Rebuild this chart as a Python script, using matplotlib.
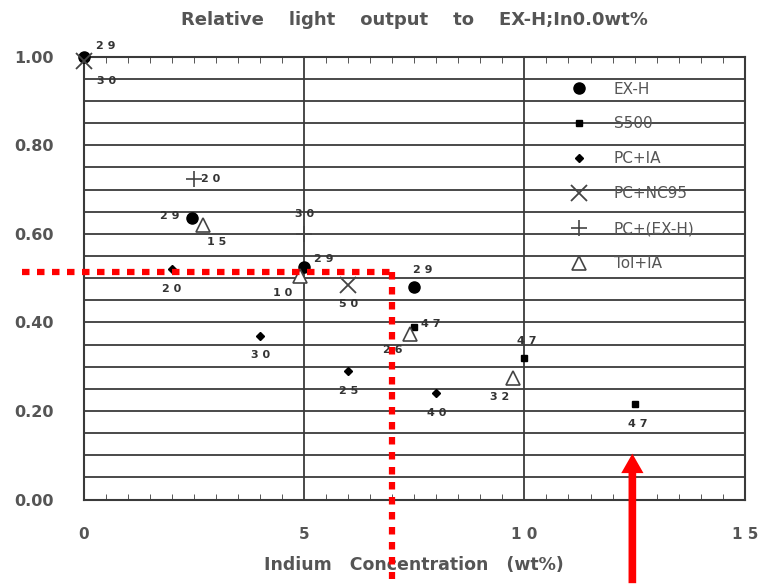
import matplotlib.pyplot as plt
import numpy as np

# data
exh_x = [0.0, 2.45, 5.0, 7.5]
exh_y = [1.00, 0.635, 0.525, 0.48]
exh_lab = ['29', '29', '29', '29']

s500_x = [7.5, 10.0, 12.5]
s500_y = [0.39, 0.32, 0.215]
s500_lab = ['47', '47', '47']

pcia_x = [2.0, 4.0, 6.0, 8.0]
pcia_y = [0.52, 0.37, 0.29, 0.24]
pcia_lab = ['20', '30', '25', '40']

nc95_x = [0.0, 6.0]
nc95_y = [0.99, 0.485]
nc95_lab = ['30', '50']

pcexh_x = [2.5, 5.0]
pcexh_y = [0.725, 0.60]
pcexh_lab = ['20', '30']

tolia_x = [2.7, 4.9, 7.4, 9.75]
tolia_y = [0.62, 0.505, 0.375, 0.275]
tolia_lab = ['15', '10', '26', '32']

# label offsets in points (x, y)
exh_off = [(16, 8), (-16, 2), (14, 6), (6, 12)]
s500_off = [(12, 2), (2, 12), (2, -14)]
pcia_off = [(0, -14), (0, -14), (0, -14), (0, -14)]
nc95_off = [(16, -14), (0, -14)]
pcexh_off = [(12, 0), (0, 14)]
tolia_off = [(10, -12), (-12, -12), (-12, -12), (-10, -14)]

grey = '#3a3a3a'
txt = '#555555'
fam = ['DejaVu Sans']

plt.switch_backend('Agg')
fig = plt.figure(figsize=(7.63, 5.85), dpi=100)
ax = fig.add_axes([0.110, 0.146, 0.866, 0.757])

ax.set_xlim(0, 15)
ax.set_ylim(0, 1.0)

for yy in np.arange(0.05, 1.0, 0.05):
    ax.axhline(yy, color=grey, lw=1.3, zorder=1)
for xx in [5, 10]:
    ax.axvline(xx, color=grey, lw=1.3, zorder=1)

for s in ax.spines.values():
    s.set_color(grey)
    s.set_linewidth(1.5)

ax.set_xticks([0, 5, 10, 15])
ax.set_xticklabels(['0', '5', '1 0', '1 5'])
ax.set_yticks([0, 0.2, 0.4, 0.6, 0.8, 1.0])
ax.set_yticklabels(['0.00', '0.20', '0.40', '0.60', '0.80', '1.00'])
ax.set_xticks(np.arange(0, 15.01, 0.5), minor=True)
ax.tick_params(axis='x', which='major', length=0, pad=20, labelsize=11, labelcolor=txt)
ax.tick_params(axis='y', which='major', length=0, pad=22, labelsize=11.5, labelcolor=txt)
ax.tick_params(axis='x', which='minor', direction='in', length=4, top=True, bottom=True, color=grey)
for t in ax.get_xticklabels() + ax.get_yticklabels():
    t.set_family(fam)
    t.set_fontweight('bold')

ax.set_title('Relative    light    output    to    EX-H;In0.0wt%', fontsize=13,
             color=txt, family=fam, fontweight='bold', pad=23)
ax.set_xlabel('Indium   Concentration   (wt%)', fontsize=12.5, color=txt,
              family=fam, fontweight='bold', labelpad=10)

ax.plot(exh_x, exh_y, 'o', color='black', ms=8, ls='none', label='EX-H', zorder=4, clip_on=False)
ax.plot(s500_x, s500_y, 's', color='black', ms=5, ls='none', label='S500', zorder=4)
ax.plot(pcia_x, pcia_y, 'D', color='black', ms=4.5, ls='none', label='PC+IA', zorder=4)
ax.plot(nc95_x, nc95_y, 'x', color='#444444', ms=11, mew=1.3, ls='none', label='PC+NC95', zorder=4, clip_on=False)
ax.plot(pcexh_x, pcexh_y, '+', color='#444444', ms=11, mew=1.2, ls='none', label='PC+(EX-H)', zorder=4)
ax.plot(tolia_x, tolia_y, '^', color='#444444', mfc='white', ms=10, mew=1.2, ls='none', label='Tol+IA', zorder=4)

groups = [(exh_x, exh_y, exh_lab, exh_off), (s500_x, s500_y, s500_lab, s500_off),
          (pcia_x, pcia_y, pcia_lab, pcia_off), (nc95_x, nc95_y, nc95_lab, nc95_off),
          (pcexh_x, pcexh_y, pcexh_lab, pcexh_off), (tolia_x, tolia_y, tolia_lab, tolia_off)]
for xs, ys, labs, offs in groups:
    for x, y, l, o in zip(xs, ys, labs, offs):
        ax.annotate(' '.join(l), (x, y), xytext=o, textcoords='offset points',
                    ha='center', va='center', fontsize=8, color='#333333',
                    family=fam, fontweight='bold', annotation_clip=False)

leg = ax.legend(loc='upper left', bbox_to_anchor=(0.705, 0.975), frameon=False, fontsize=11,
                labelspacing=1.3, handletextpad=1.3, markerscale=1.0)
for t in leg.get_texts():
    t.set_color(txt)

# red annotations drawn on top of the scan
ax.plot([-1.4, 7.0], [0.515, 0.515], color='red', lw=4.5, ls=(0, (1.2, 1.2)),
        clip_on=False, zorder=6)
ax.plot([7.0, 7.0], [0.515, -0.18], color='red', lw=4.5, ls=(0, (1.2, 1.2)),
        clip_on=False, zorder=6)
ax.annotate('', xy=(12.45, 0.11), xytext=(12.45, -0.195), annotation_clip=False,
            arrowprops=dict(arrowstyle='simple,head_width=1.6,head_length=1.4,tail_width=0.55',
                            color='red', lw=0), zorder=6)

plt.savefig('out.png', dpi=100)
